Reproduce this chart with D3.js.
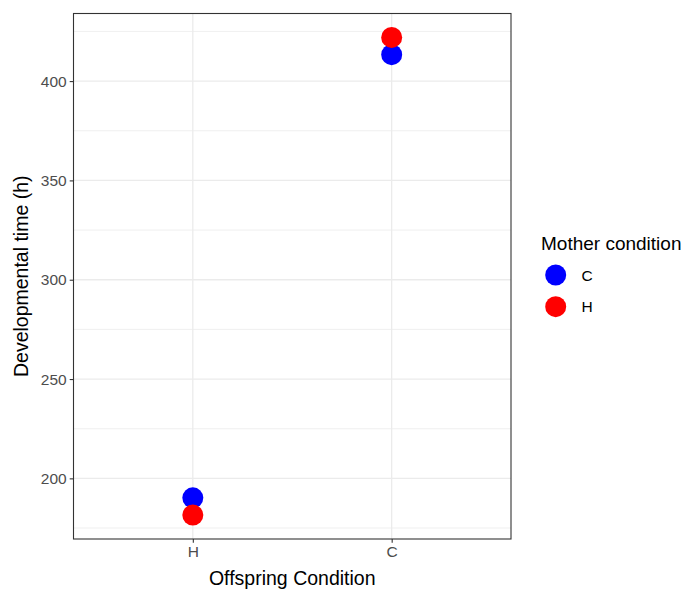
<!DOCTYPE html>
<html>
<head>
<meta charset="utf-8">
<script src="https://d3js.org/d3.v7.min.js"></script>
<style>
  body { margin: 0; background: #fff; }
  text { font-family: "Liberation Sans", Arial, sans-serif; }
</style>
</head>
<body>
<div id="chart"></div>
<script>
// offspring condition on x, mother condition as colour
const offspring = ["H", "C"];
const mothers = ["C", "H"];
const devTimeMotherC = [190.2, 413.3];
const devTimeMotherH = [181.5, 422.0];
const yTicks = [200, 250, 300, 350, 400];
const yMinor = [175, 225, 275, 325, 375, 425];

const colors = { "C": "#0000FF", "H": "#FF0000" };

const width = 686, height = 592;
const panel = { left: 73.5, top: 13.5, right: 511, bottom: 539 };

const svg = d3.select("#chart").append("svg")
    .attr("width", width)
    .attr("height", height);

const points = [];
offspring.forEach((o, i) => {
    points.push({ off: o, mother: "C", value: devTimeMotherC[i] });
    points.push({ off: o, mother: "H", value: devTimeMotherH[i] });
});

// ggplot style 5% expansion
const ext = d3.extent(points, d => d.value);
const pad = (ext[1] - ext[0]) * 0.05;
const yScale = d3.scaleLinear()
    .domain([ext[0] - pad, ext[1] + pad])
    .range([panel.bottom, panel.top]);

// discrete expansion of 0.6 units each side
const xScale = d3.scalePoint()
    .domain(offspring)
    .range([panel.left, panel.right])
    .padding(0.6);

// grid
const grid = svg.append("g");
grid.selectAll(".minor")
    .data(yMinor.filter(v => yScale(v) > panel.top && yScale(v) < panel.bottom))
    .enter().append("line")
    .attr("x1", panel.left).attr("x2", panel.right)
    .attr("y1", d => yScale(d)).attr("y2", d => yScale(d))
    .attr("stroke", "#EBEBEB").attr("stroke-width", 0.8);
grid.selectAll(".major")
    .data(yTicks)
    .enter().append("line")
    .attr("x1", panel.left).attr("x2", panel.right)
    .attr("y1", d => yScale(d)).attr("y2", d => yScale(d))
    .attr("stroke", "#EBEBEB").attr("stroke-width", 1.3);
grid.selectAll(".vmajor")
    .data(offspring)
    .enter().append("line")
    .attr("x1", d => xScale(d)).attr("x2", d => xScale(d))
    .attr("y1", panel.top).attr("y2", panel.bottom)
    .attr("stroke", "#EBEBEB").attr("stroke-width", 1.3);

// points
svg.selectAll(".dot")
    .data(points)
    .enter().append("circle")
    .attr("class", "dot")
    .attr("cx", d => xScale(d.off))
    .attr("cy", d => yScale(d.value))
    .attr("r", 10.5)
    .attr("fill", d => colors[d.mother]);

// panel border
svg.append("rect")
    .attr("x", panel.left).attr("y", panel.top)
    .attr("width", panel.right - panel.left)
    .attr("height", panel.bottom - panel.top)
    .attr("fill", "none")
    .attr("stroke", "#333333")
    .attr("stroke-width", 1.1);

// axes
const yAxis = d3.axisLeft(yScale).tickValues(yTicks).tickSize(3.8).tickPadding(3);
const gy = svg.append("g")
    .attr("transform", `translate(${panel.left},0)`)
    .call(yAxis);
const xAxis = d3.axisBottom(xScale).tickSize(3.8).tickPadding(3);
const gx = svg.append("g")
    .attr("transform", `translate(0,${panel.bottom})`)
    .call(xAxis);

[gx, gy].forEach(g => {
    g.select(".domain").remove();
    g.selectAll(".tick line").attr("stroke", "#333333").attr("stroke-width", 1.1);
    g.selectAll(".tick text")
        .attr("fill", "#4D4D4D")
        .style("font-size", "15.5px");
});

// axis titles
svg.append("text")
    .attr("x", (panel.left + panel.right) / 2)
    .attr("y", 585)
    .attr("text-anchor", "middle")
    .style("font-size", "19.5px")
    .text("Offspring Condition");

svg.append("text")
    .attr("transform", `translate(28,${(panel.top + panel.bottom) / 2}) rotate(-90)`)
    .attr("text-anchor", "middle")
    .style("font-size", "19.5px")
    .text("Developmental time (h)");

// legend
const legend = svg.append("g").attr("transform", "translate(541,0)");
legend.append("text")
    .attr("x", 0).attr("y", 249.5)
    .style("font-size", "19px")
    .text("Mother condition");
const items = legend.selectAll(".item")
    .data(mothers)
    .enter().append("g")
    .attr("transform", (d, i) => `translate(0,${275 + i * 31.7})`);
items.append("circle")
    .attr("cx", 14.7).attr("cy", 0)
    .attr("r", 10.5)
    .attr("fill", d => colors[d]);
items.append("text")
    .attr("x", 40.5).attr("y", 5.5)
    .style("font-size", "15.5px")
    .text(d => d);
</script>
</body>
</html>
